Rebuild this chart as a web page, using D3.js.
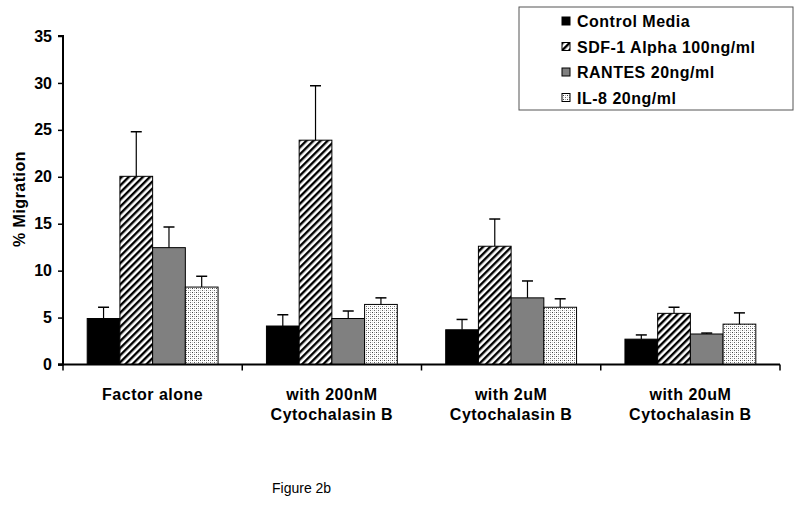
<!DOCTYPE html>
<html><head><meta charset="utf-8">
<script src="https://cdn.jsdelivr.net/npm/d3@7"></script>
<style>body{margin:0;background:#fff}svg{display:block}</style>
</head><body>
<script>
const categories = [["Factor alone"], ["with 200nM","Cytochalasin B"], ["with 2uM","Cytochalasin B"], ["with 20uM","Cytochalasin B"]];
const seriesNames = ["Control Media","SDF-1 Alpha 100ng/ml","RANTES 20ng/ml","IL-8 20ng/ml"];
const controlVals = [4.9, 4.1, 3.7, 2.7];
const controlErr  = [1.2, 1.2, 1.1, 0.45];
const sdfVals     = [20.05, 23.9, 12.6, 5.45];
const sdfErr      = [4.75, 5.8, 2.9, 0.65];
const rantesVals  = [12.45, 4.9, 7.1, 3.25];
const rantesErr   = [2.2, 0.8, 1.8, 0.1];
const il8Vals     = [8.25, 6.4, 6.1, 4.3];
const il8Err      = [1.15, 0.7, 0.9, 1.2];
const yTicks = [0,5,10,15,20,25,30,35];

const values = [controlVals, sdfVals, rantesVals, il8Vals];
const errs = [controlErr, sdfErr, rantesErr, il8Err];
const fills = ["#000", "url(#hatch)", "#808080", "url(#dots)"];
const FONT = "Liberation Sans, Arial, sans-serif";

const W = 800, H = 526;
const svg = d3.select("body").append("svg").attr("width", W).attr("height", H);
const defs = svg.append("defs");
const hp = defs.append("pattern").attr("id","hatch").attr("patternUnits","userSpaceOnUse")
  .attr("width",5).attr("height",5).attr("patternTransform","rotate(45)");
hp.append("rect").attr("width",5).attr("height",5).attr("fill","#fff");
hp.append("rect").attr("x",0).attr("width",2.4).attr("height",5).attr("fill","#000");
const dp = defs.append("pattern").attr("id","dots").attr("patternUnits","userSpaceOnUse")
  .attr("width",4).attr("height",4);
dp.append("rect").attr("width",4).attr("height",4).attr("fill","#fff");
dp.append("rect").attr("x",0).attr("y",0).attr("width",1).attr("height",1).attr("fill","#444");
dp.append("rect").attr("x",2).attr("y",2).attr("width",1).attr("height",1).attr("fill","#666");
dp.append("rect").attr("x",2).attr("y",0).attr("width",1).attr("height",1).attr("fill","#aaa");
dp.append("rect").attr("x",0).attr("y",2).attr("width",1).attr("height",1).attr("fill","#ccc");

const x0 = 63, x1 = 780, yTop = 36, yBot = 364.5;
const x = d3.scaleBand().domain(d3.range(categories.length)).range([x0, x1]).paddingInner(0.27).paddingOuter(0.135);
const xs = d3.scaleBand().domain(d3.range(seriesNames.length)).range([0, x.bandwidth()]);
const y = d3.scaleLinear().domain([0,35]).range([yBot, yTop]);

const g = svg.append("g");
values.forEach((vals, si) => {
  g.selectAll(null).data(vals).enter().append("rect")
    .attr("x", (d,i) => x(i) + xs(si))
    .attr("y", d => y(d))
    .attr("width", xs.bandwidth())
    .attr("height", d => y(0) - y(d))
    .attr("fill", fills[si]).attr("stroke","#000").attr("stroke-width",1);
  vals.forEach((v,i) => {
    const cx = x(i) + xs(si) + xs.bandwidth()/2;
    g.append("line").attr("x1",cx).attr("x2",cx).attr("y1",y(v)).attr("y2",y(v+errs[si][i])).attr("stroke","#000").attr("stroke-width",1.2);
    g.append("line").attr("x1",cx-5.5).attr("x2",cx+5.5).attr("y1",y(v+errs[si][i])).attr("y2",y(v+errs[si][i])).attr("stroke","#000").attr("stroke-width",1.5);
  });
});

// y axis
const ya = svg.append("g").attr("transform",`translate(${x0},0)`)
  .call(d3.axisLeft(y).tickValues(yTicks).tickSize(5).tickPadding(6));
ya.select(".domain").attr("stroke","#000").attr("stroke-width",2).attr("d",`M-5,${yTop}H0V${yBot}H-5`);
ya.selectAll(".tick line").attr("stroke","#000").attr("stroke-width",1.5);
ya.selectAll(".tick text").attr("font-family",FONT).attr("font-weight","bold").attr("font-size",16).attr("fill","#000");

// x axis
const xa = svg.append("g").attr("transform",`translate(0,${yBot})`);
xa.append("line").attr("x1",x0-5).attr("x2",x1).attr("y1",0).attr("y2",0).attr("stroke","#000").attr("stroke-width",2);
const bounds = d3.range(categories.length+1).map(i => i < categories.length ? x(i) - x.step()*x.paddingInner()/2 : x(i-1) + x.bandwidth() + x.step()*x.paddingInner()/2);
xa.selectAll(".xt").data(bounds).enter().append("line")
  .attr("x1", d=>d).attr("x2", d=>d).attr("y1",0).attr("y2",6).attr("stroke","#000").attr("stroke-width",1.5);
categories.forEach((lines, i) => {
  const t = xa.append("text").attr("text-anchor","middle")
    .attr("font-family",FONT).attr("font-weight","bold").attr("font-size",16).attr("letter-spacing",0.5).attr("fill","#000")
    .attr("transform",`translate(${x(i)+x.bandwidth()/2},35.5)`);
  lines.forEach((l, li) => t.append("tspan").attr("x",0).attr("dy", li===0?0:20).text(l));
});

// y label
svg.append("text").attr("transform","translate(25,199) rotate(-90)").attr("text-anchor","middle")
  .attr("font-family",FONT).attr("font-weight","bold").attr("font-size",16).attr("letter-spacing",0.5).text("% Migration");

// legend
const lg = svg.append("g").attr("transform","translate(519,7)");
lg.append("rect").attr("width",274).attr("height",103).attr("fill","#fff").attr("stroke","#555").attr("stroke-width",1);
seriesNames.forEach((n, i) => {
  const ry = 14 + i*25.5;
  lg.append("rect").attr("x",43).attr("y",ry-4).attr("width",8).attr("height",8).attr("fill",fills[i]).attr("stroke","#000").attr("stroke-width",1);
  lg.append("text").attr("x",58).attr("y",ry+6).attr("font-family",FONT).attr("font-weight","bold").attr("font-size",16).attr("letter-spacing",0.5).text(n);
});

svg.append("text").attr("x",272).attr("y",493).attr("font-family",FONT).attr("font-size",14).text("Figure 2b");
</script>
</body></html>
